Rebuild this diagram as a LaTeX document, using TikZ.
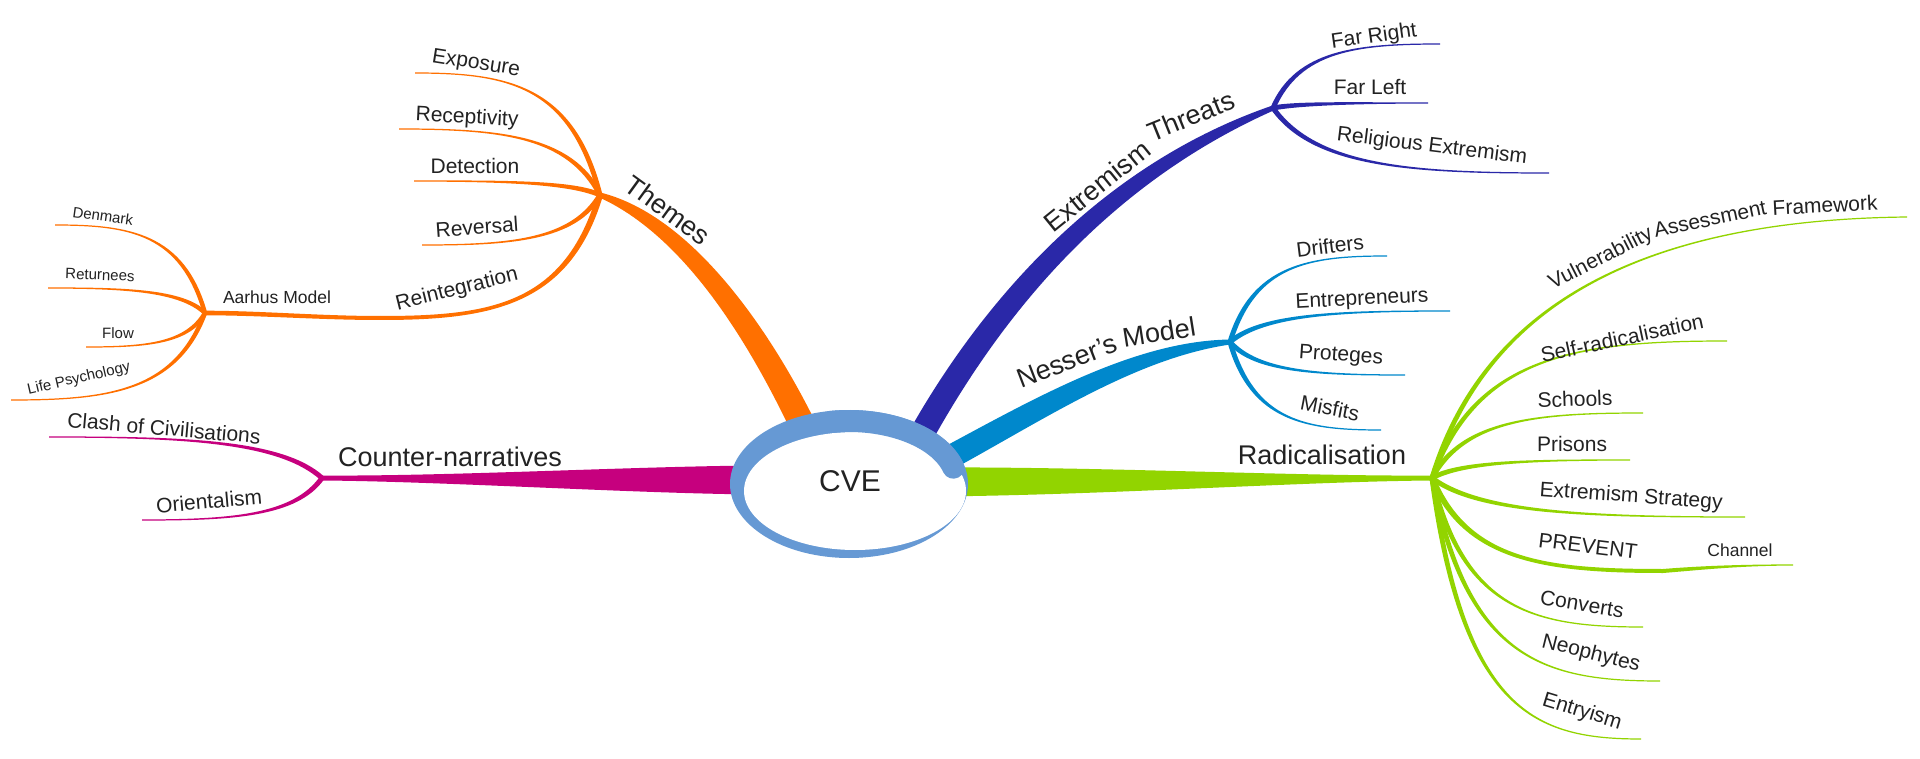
\documentclass[tikz,border=0pt]{standalone}
\usepackage{fontspec}
\setmainfont{Liberation Sans}
\usetikzlibrary{calc}
\definecolor{cOr}{RGB}{255,112,0}
\definecolor{cNavy}{RGB}{42,40,168}
\definecolor{cBlue}{RGB}{0,136,204}
\definecolor{cGreen}{RGB}{146,212,0}
\definecolor{cMag}{RGB}{198,0,126}
\definecolor{cRing}{RGB}{102,153,212}
\definecolor{cTxt}{RGB}{34,34,34}
% tapered bezier: P0, C1, C2, P3, half-width start, half-width near end, half-width end, colour
\newcommand\mmTaper[8]{%
  \path ($(#1)!#5!90:(#2)$) coordinate (tA0)
        ($(#1)!#5!-90:(#2)$) coordinate (tB0)
        ($(#4)!#7!-90:(#3)$) coordinate (tA3)
        ($(#4)!#7!90:(#3)$) coordinate (tB3)
        ($(#4)!#6!-90:(#3)$) coordinate (tAm)
        ($(#4)!#6!90:(#3)$) coordinate (tBm);
  \fill[#8] (tA0) .. controls ($(#2)+(tA0)-(#1)$) and ($(#3)+(tAm)-(#4)$) .. (tA3)
     -- (tB3) .. controls ($(#3)+(tBm)-(#4)$) and ($(#2)+(tB0)-(#1)$) .. (tB0) -- cycle;%
}
% sub-branch from hub to end, ending horizontally
\newcommand\mmSub[5]{%
  \path let \p1=(#1), \p2=(#2) in
    ({\x1+0.15*(\x2-\x1)},{\y1+0.9*(\y2-\y1)}) coordinate (sC1)
    ({\x1+0.5*(\x2-\x1)},{\y2}) coordinate (sC2);
  \mmTaper{#1}{sC1}{sC2}{#2}{#3}{#4}{#4}{#5}%
}
\begin{document}
\begin{tikzpicture}[x=1pt,y=-1pt,
  lab/.style={text=cTxt, inner sep=0pt},
  mainlab/.style={lab, font=\fontsize{27}{27}\selectfont},
  sublab/.style={lab, font=\fontsize{21}{21}\selectfont},
  smalllab/.style={lab, font=\fontsize{17.5}{17.5}\selectfont},
  tinylab/.style={lab, font=\fontsize{15}{15}\selectfont}]
\useasboundingbox (0,0) rectangle (1920,759);
\fill[white] (0,0) rectangle (1920,759);

% ---------- coordinates ----------
\coordinate (sT) at (812,445);  \coordinate (hT) at (600,195);
\coordinate (sE) at (905,465);  \coordinate (hE) at (1273,108);
\coordinate (sN) at (930,468);  \coordinate (hN) at (1230,342);
\coordinate (sR) at (930,482);  \coordinate (hR) at (1432,478);
\coordinate (sC) at (770,480);  \coordinate (hC) at (322,478);
\coordinate (hA) at (205,313);

\coordinate (eExpo) at (415,73);
\coordinate (eRece) at (399,129);
\coordinate (eDete) at (414,181);
\coordinate (eReve) at (422,245);
\coordinate (eRein) at (380,318);
\coordinate (eDenm) at (55,225);
\coordinate (eRetu) at (48,288);
\coordinate (eFlow) at (86,347);
\coordinate (eLife) at (11,400);
\coordinate (eClas) at (49,437);
\coordinate (eOrie) at (142,520);
\coordinate (eFaRi) at (1440,44);
\coordinate (eFaLe) at (1428,103);
\coordinate (eReli) at (1549,173);
\coordinate (eDrif) at (1387,256);
\coordinate (eEntr) at (1450,311);
\coordinate (eProt) at (1405,375);
\coordinate (eMisf) at (1381,430);
\coordinate (eVAF)  at (1907,217);
\coordinate (eSelf) at (1727,341);
\coordinate (eScho) at (1643,413);
\coordinate (ePris) at (1630,460);
\coordinate (eExSt) at (1745,517);
\coordinate (kPrev) at (1663,571);
\coordinate (eChan) at (1793,565);
\coordinate (eConv) at (1643,627);
\coordinate (eNeop) at (1660,681);
\coordinate (eEnty) at (1641,739);

% ---------- main branches ----------
\mmTaper{sT}{775,365}{700,230}{hT}{13pt}{12pt}{2.5pt}{cOr}
\mmTaper{sE}{975,330}{1090,180}{hE}{12.5pt}{11pt}{2.5pt}{cNavy}
\mmTaper{sN}{1030,415}{1130,350}{hN}{12pt}{9pt}{2.5pt}{cBlue}
\mmTaper{sR}{1100,481}{1300,479}{hR}{14.5pt}{2.5pt}{2.5pt}{cGreen}
\mmTaper{sC}{650,480}{450,479}{hC}{14.5pt}{2.5pt}{2.5pt}{cMag}

% ---------- Themes ----------
\mmSub{hT}{eExpo}{2.5pt}{0.6pt}{cOr}
\mmSub{hT}{eRece}{2.5pt}{0.6pt}{cOr}
\mmSub{hT}{eDete}{2.5pt}{0.6pt}{cOr}
\mmSub{hT}{eReve}{2.5pt}{0.6pt}{cOr}
\mmSub{hT}{eRein}{3pt}{2pt}{cOr}
\mmTaper{eRein}{320,318}{260,313}{hA}{2pt}{2.3pt}{2.3pt}{cOr}
\mmSub{hA}{eDenm}{2.2pt}{0.6pt}{cOr}
\mmSub{hA}{eRetu}{2.2pt}{0.6pt}{cOr}
\mmSub{hA}{eFlow}{2.2pt}{0.6pt}{cOr}
\mmSub{hA}{eLife}{2.2pt}{0.6pt}{cOr}

% ---------- Counter-narratives ----------
\mmSub{hC}{eClas}{2.5pt}{0.6pt}{cMag}
\mmSub{hC}{eOrie}{2.5pt}{0.6pt}{cMag}

% ---------- Extremism Threats ----------
\mmSub{hE}{eFaRi}{2.5pt}{0.6pt}{cNavy}
\mmSub{hE}{eFaLe}{2.5pt}{0.6pt}{cNavy}
\mmSub{hE}{eReli}{2.5pt}{0.6pt}{cNavy}

% ---------- Nesser's Model ----------
\mmSub{hN}{eDrif}{2.5pt}{0.6pt}{cBlue}
\mmSub{hN}{eEntr}{2.5pt}{0.6pt}{cBlue}
\mmSub{hN}{eProt}{2.5pt}{0.6pt}{cBlue}
\mmSub{hN}{eMisf}{2.5pt}{0.6pt}{cBlue}

% ---------- Radicalisation ----------
\mmTaper{hR}{1480,320}{1620,220}{eVAF}{2.5pt}{0.6pt}{0.6pt}{cGreen}
\mmSub{hR}{eSelf}{2.5pt}{0.6pt}{cGreen}
\mmSub{hR}{eScho}{2.5pt}{0.6pt}{cGreen}
\mmSub{hR}{ePris}{2.5pt}{0.6pt}{cGreen}
\mmSub{hR}{eExSt}{2.5pt}{0.6pt}{cGreen}
\mmSub{hR}{kPrev}{3pt}{2pt}{cGreen}
\mmTaper{kPrev}{1700,568}{1740,565}{eChan}{2pt}{0.6pt}{0.6pt}{cGreen}
\mmSub{hR}{eConv}{2.5pt}{0.6pt}{cGreen}
\mmSub{hR}{eNeop}{2.5pt}{0.6pt}{cGreen}
\mmSub{hR}{eEnty}{2.5pt}{0.6pt}{cGreen}

% ---------- central ring ----------
\fill[cRing] (849,484) ellipse [x radius=119pt, y radius=74pt];
\fill[white] (855,491) ellipse [x radius=111pt, y radius=59pt];
\draw[cRing, line width=22pt, line cap=round] (849,484) ++(100:108pt and 63pt)
   arc[start angle=100, end angle=15, x radius=108pt, y radius=63pt];
\node[lab, font=\fontsize{30}{30}\selectfont] (cve) at (850,481) {CVE};

% ---------- main labels ----------
\node[mainlab, rotate=-36] (lThemes) at (668,210) {Themes};
\node[mainlab] (lCount) at (450,457) {Counter-narratives};
\node[mainlab] (lRad) at (1322,455) {Radicalisation};
\node[mainlab, rotate=39] (lExt1) at (1097,186) {Extremism};
\node[mainlab, rotate=22] (lExt2) at (1191,116) {Threats};
\node[mainlab, rotate=21] (lNes1) at (1067,361) {Nesser's};
\node[mainlab, rotate=9] (lNes2) at (1159,332) {Model};

% ---------- sub labels ----------
\node[sublab, rotate=-9] (lExpo) at (476,64) {Exposure};
\node[sublab, rotate=-3] (lRece) at (467,118) {Receptivity};
\node[sublab] (lDete) at (475,166) {Detection};
\node[sublab, rotate=4] (lReve) at (477,227) {Reversal};
\node[sublab, rotate=14] (lRein) at (457,290) {Reintegration};
\node[smalllab] (lAarh) at (277,297) {Aarhus Model};
\node[tinylab, rotate=-8] (lDenm) at (103,216) {Denmark};
\node[tinylab, rotate=-2] (lRetu) at (100,275) {Returnees};
\node[tinylab] (lFlow) at (118,333) {Flow};
\node[tinylab, rotate=13] (lLife) at (79,379) {Life Psychology};

\node[sublab, rotate=-5] (lClas) at (164,428) {Clash of Civilisations};
\node[sublab, rotate=5] (lOrie) at (209,501) {Orientalism};

\node[sublab, rotate=8] (lFaRi) at (1374,37) {Far Right};
\node[sublab] (lFaLe) at (1370,87) {Far Left};
\node[sublab, rotate=-7] (lReli) at (1432,147) {Religious Extremism};

\node[sublab, rotate=7] (lDrif) at (1330,246) {Drifters};
\node[sublab, rotate=3] (lEntr) at (1362,300) {Entrepreneurs};
\node[sublab, rotate=-4] (lProt) at (1341,356) {Proteges};
\node[sublab, rotate=-11] (lMisf) at (1330,408) {Misfits};

\node[sublab, rotate=27] (lVAF1) at (1601,259) {Vulnerability};
\node[sublab, rotate=12] (lVAF2) at (1710,219) {Assessment};
\node[sublab, rotate=3] (lVAF3) at (1825,205) {Framework};
\node[sublab, rotate=12] (lSelf) at (1622,338) {Self-radicalisation};
\node[sublab, rotate=2] (lScho) at (1575,399) {Schools};
\node[sublab] (lPris) at (1572,444) {Prisons};
\node[sublab, rotate=-4] (lExSt) at (1631,497) {Extremism Strategy};
\node[sublab, rotate=-7] (lPrev) at (1588,546) {PREVENT};
\node[smalllab] (lChan) at (1740,550) {Channel};
\node[sublab, rotate=-9] (lConv) at (1582,604) {Converts};
\node[sublab, rotate=-14] (lNeop) at (1591,654) {Neophytes};
\node[sublab, rotate=-17] (lEnty) at (1582,712) {Entryism};
\end{tikzpicture}
\end{document}
